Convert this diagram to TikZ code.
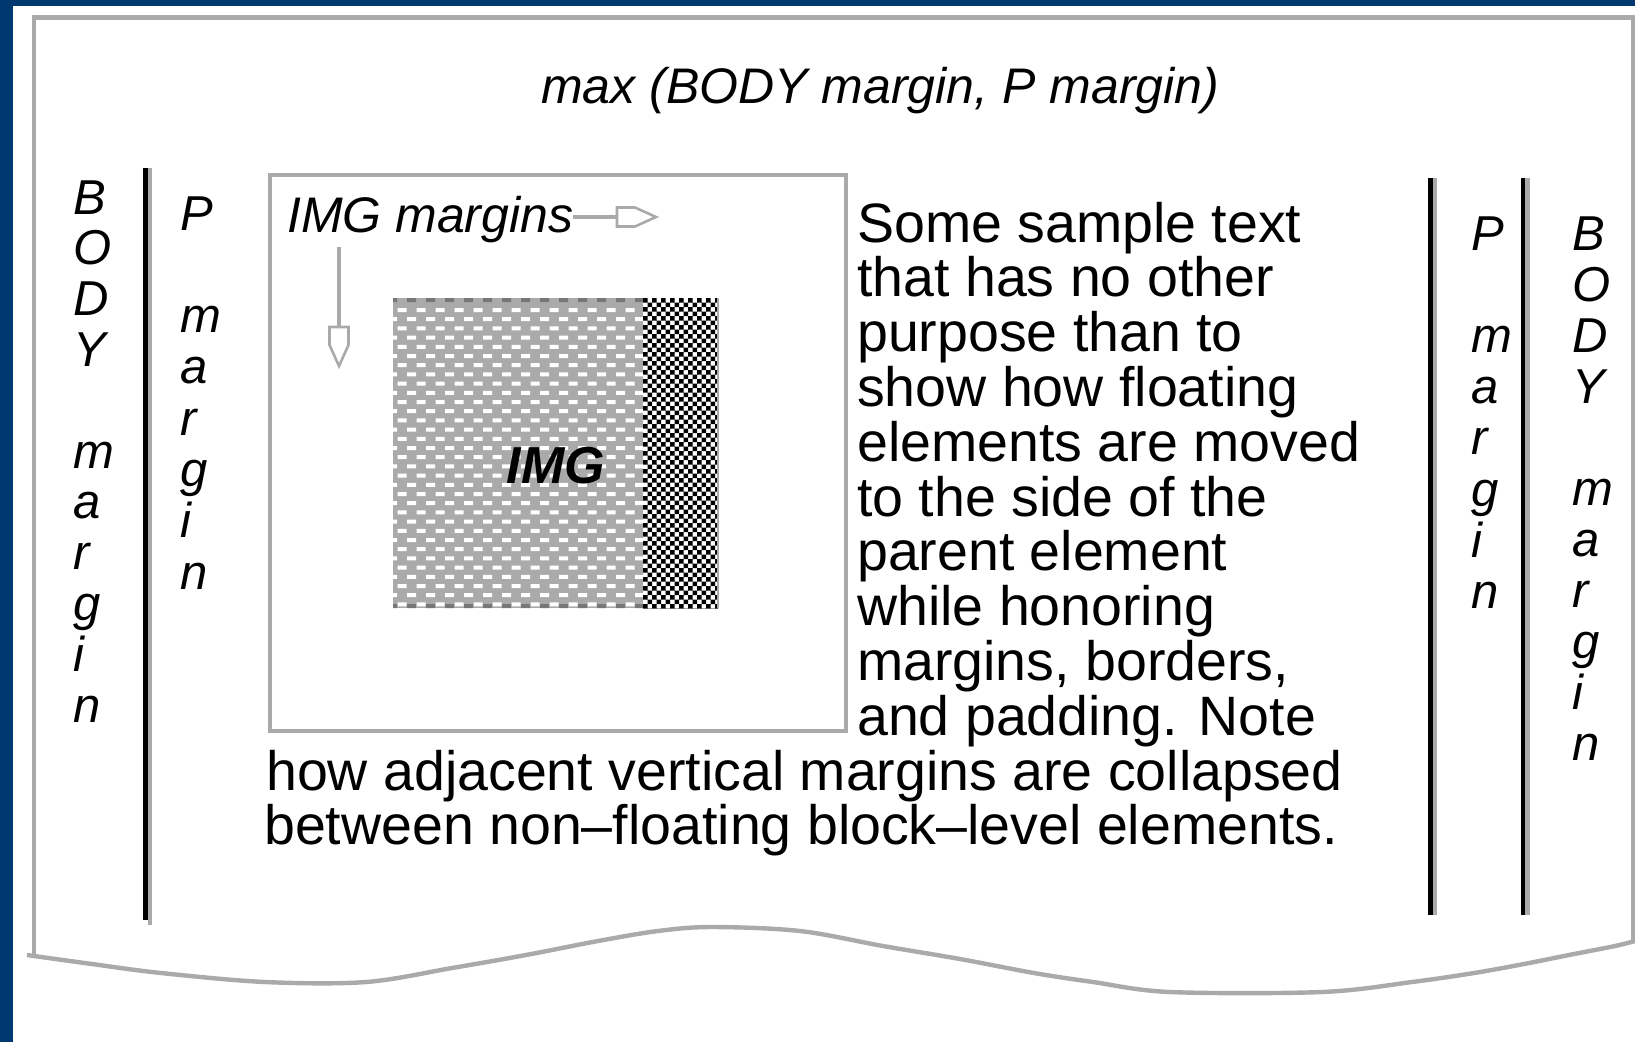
\documentclass[tikz,border=0pt]{standalone}
\usepackage{fontspec}
\setmainfont{Liberation Sans}
\definecolor{navy}{RGB}{0,57,112}
\definecolor{frameg}{RGB}{170,170,170}
\definecolor{darkg}{RGB}{119,119,119}
\begin{document}
\begin{tikzpicture}[x=1pt,y=-1pt,
  lab/.style={inner sep=0pt, anchor=base west, font=\fontsize{50}{51}\selectfont\itshape},
  vlet/.style={inner sep=0pt, anchor=base west, font=\fontsize{49}{51}\selectfont\itshape},
  bodytxt/.style={inner sep=0pt, anchor=base west, font=\fontsize{55.5}{56}\selectfont},
  gline/.style={frameg, line width=4.4pt},
  headstyle/.style={frameg, line width=2.6pt, line join=miter, fill=white},
]
\useasboundingbox (0,0) rectangle (1635,1042);
\fill[white] (0,0) rectangle (1635,1042);
\fill[navy] (0,0) rectangle (13,1042);
\fill[navy] (0,0) rectangle (1635,6);

% page frame
\draw[gline] (34,955) -- (34,17.5) -- (1633,17.5) -- (1633,941);
\draw[gline] plot[smooth, tension=0.55] coordinates {(27,955) (92,964) (161,973) (265,982) (366,982) (452,968) (526,955) (598,941) (658,931) (712,927) (800,931) (883,946) (960,959) (1034,973) (1093,982) (1170,992) (1322,992) (1412,982) (1474,973) (1524,964) (1569,955) (1615,946) (1635,941)};

% margin rules
\draw[line width=5pt] (145.8,168) -- (145.8,920);
\draw[frameg, line width=3.6pt] (150,168) -- (150,925);
\draw[line width=5pt] (1430.5,178) -- (1430.5,915);
\draw[frameg, line width=3.8pt] (1435,178) -- (1435,915);
\draw[line width=4.5pt] (1523,178) -- (1523,915);
\draw[frameg, line width=4.2pt] (1527.5,178) -- (1527.5,915);

% IMG box
\draw[frameg, line width=4.3pt] (270.2,175.2) rectangle (846,731);

% IMG pattern
\fill[frameg] (393,298) rectangle (643,608);
\begin{scope}
\clip (393,298) rectangle (643,608);
\fill[white] \foreach \r in {0,...,32} { \foreach \c in {0,...,13} { ({388+19*\c+9.5*mod(\r+1,2)}, {308+9.2*\r}) rectangle ++(9,4) } };
\fill[darkg] \foreach \c in {0,...,13} { ({388+19*\c}, 298) rectangle ++(9,4) };
\fill[darkg] \foreach \c in {0,...,13} { ({388+19*\c}, 604) rectangle ++(9,4) };
\end{scope}
\fill[white] (643,298) rectangle (718,608);
\begin{scope}
\clip (643,298) rectangle (718,608);
\fill[black] \foreach \r in {0,...,69} { \foreach \c in {0,2,...,16} { ({643+4.5*\c+4.5*mod(\r,2)}, {298+4.5*\r}) rectangle ++(4.5,4.5) } };
\end{scope}
\draw[frameg, line width=1.5pt] (718,298) -- (718,608);
\node[inner sep=0pt, anchor=base, font=\fontsize{52}{52}\selectfont\bfseries\itshape] (imglabel) at (556,483) {IMG};

% labels
\node[lab] (title) at (541,103) {max (BODY margin, P margin)};
\node[lab] (imgm) at (287,232) {IMG margins};

% margin arrows
\coordinate (ha) at (573,217);
\coordinate (hb) at (617,217);
\draw[frameg, line width=3.4pt] (ha) -- (hb);
\draw[headstyle] (617,207.5) -- (635,207.5) -- (656,217) -- (635,226.5) -- (617,226.5) -- cycle;
\coordinate (va) at (339,247);
\coordinate (vb) at (339,327);
\draw[frameg, line width=3.8pt] (va) -- (vb);
\draw[headstyle] (329.5,327) -- (348.5,327) -- (348.5,345) -- (339,366) -- (329.5,345) -- cycle;

% vertical labels
\foreach \ch/\k in {B/0,O/1,D/2,Y/3,m/5,a/6,r/7,g/8,i/9,n/10}
  \node[vlet] (lbody\k) at ({73},{214+50.8*\k}) {\ch};
\foreach \ch/\k in {P/0,m/2,a/3,r/4,g/5,i/6,n/7}
  \node[vlet] (lp\k) at ({180},{230+51.3*\k}) {\ch};
\foreach \ch/\k in {P/0,m/2,a/3,r/4,g/5,i/6,n/7}
  \node[vlet] (rp\k) at ({1471},{250+51.2*\k}) {\ch};
\foreach \ch/\k in {B/0,O/1,D/2,Y/3,m/5,a/6,r/7,g/8,i/9,n/10}
  \node[vlet] (rbody\k) at ({1572},{250+51*\k}) {\ch};

% body text
\foreach \t [count=\k from 0] in {Some sample text,that has no other,purpose than to,show how floating,elements are moved,to the side of the,parent element,while honoring,{margins, borders,},and padding. Note}
  \node[bodytxt] (txt\k) at ({857},{242+54.8*\k}) {\t};
\node[bodytxt] (txt10) at (266,790) {how adjacent vertical margins are collapsed};
\node[bodytxt] (txt11) at (264,844.8) {between non–floating block–level elements.};
\end{tikzpicture}
\end{document}
